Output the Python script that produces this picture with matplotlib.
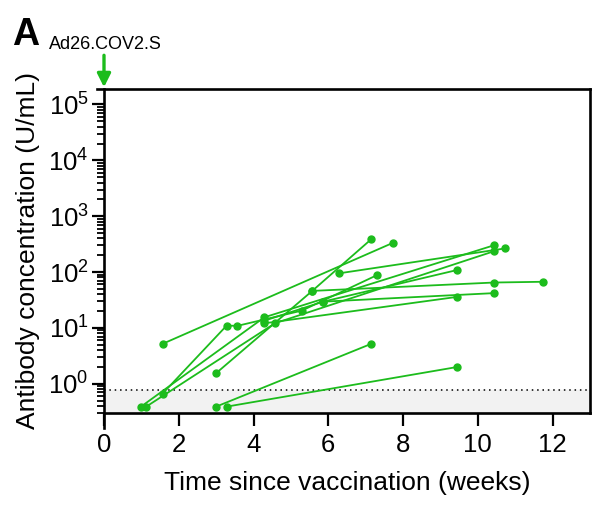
import matplotlib.pyplot as plt
import numpy as np

plt.rcParams['font.family'] = ['Liberation Sans', 'DejaVu Sans']

# weeks since vaccination and antibody concentration (U/mL), one list per subject
weeks = [
    [1.57, 7.73],
    [3.0, 7.15],
    [3.28, 9.45],
    [3.0, 5.57, 7.15],
    [0.99, 4.29, 10.44],
    [1.13, 4.57, 10.44],
    [1.57, 3.28, 3.57, 5.29, 7.30],
    [4.29, 9.45],
    [4.29, 5.86, 10.44],
    [5.86, 9.45],
    [6.29, 10.73],
    [5.57, 10.44, 11.73],
]
conc = [
    [5.2, 334],
    [0.39, 5.2],
    [0.39, 2.0],
    [1.55, 46, 388],
    [0.39, 15.5, 303],
    [0.39, 12.1, 237],
    [0.67, 11, 10.9, 20.4, 88],
    [12.1, 36],
    [13.5, 29.5, 42],
    [29.5, 109],
    [95, 265],
    [46, 65, 67],
]
lod = 0.78
green = '#1CBC1C'

fig = plt.figure(figsize=(5.97, 5.08), dpi=100)
ax = fig.add_axes([0.1742, 0.187, 0.8141, 0.638])

ax.set_yscale('log')
ax.set_xlim(0, 13)
ax.set_ylim(0.3, 1.9e5)

# below limit of detection
ax.axhspan(0.3, lod, color='#f2f2f2', zorder=0)
ax.axhline(lod, color='black', linestyle=(0, (1, 2.5)), linewidth=1.1, zorder=1)

for w, c in zip(weeks, conc):
    ax.plot(w, c, color=green, marker='o', markersize=5, linewidth=1.3, zorder=3)

ax.set_xticks(np.arange(0, 13, 2))
ax.set_yticks([1e0, 1e1, 1e2, 1e3, 1e4, 1e5])
for s in ax.spines.values():
    s.set_linewidth(1.9)
ax.spines['left'].set_bounds(0.165, 1.9e5)
ax.spines['top'].set_bounds(-0.19, 13)
ax.tick_params(axis='x', which='major', direction='out', length=9.5, width=1.6,
               labelsize=18.5, pad=5)
ax.tick_params(axis='y', which='major', direction='out', length=9, width=1.6,
               labelsize=18.5, pad=2)
ax.tick_params(axis='y', which='minor', direction='out', length=5, width=1.3)

ax.set_xlabel('Time since vaccination (weeks)', fontsize=19, labelpad=10)
ax.set_ylabel('Antibody concentration (U/mL)', fontsize=19, labelpad=6)

fig.text(0.02, 0.912, 'A', fontsize=27, fontweight='bold')
fig.text(0.082, 0.903, 'Ad26.COV2.S', fontsize=13)

ax.annotate('', xy=(0, 1.9e5 * 10 ** (0.03)), xytext=(0, 23), textcoords='offset points',
            xycoords='data', annotation_clip=False,
            arrowprops=dict(arrowstyle='-|>', color=green, lw=2.4, mutation_scale=20,
                            shrinkA=0, shrinkB=0))

fig.savefig('out.png', dpi=100)
